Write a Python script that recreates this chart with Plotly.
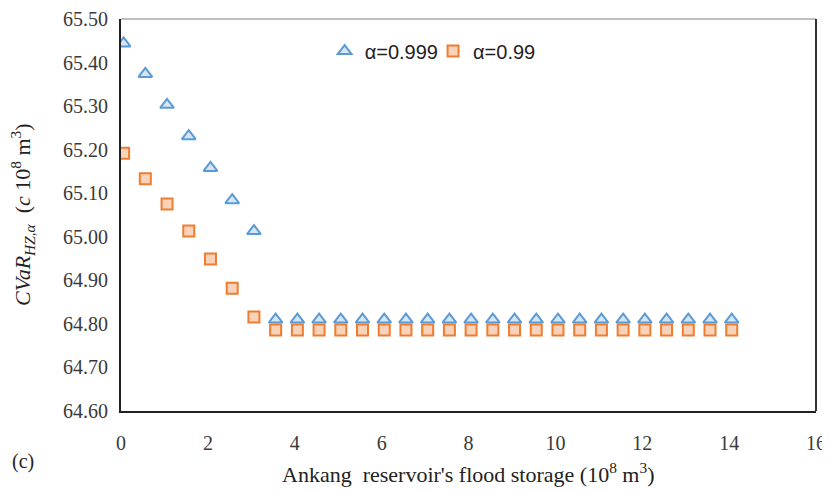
import plotly.graph_objects as go

x_storage = [0.06 + 0.5 * i for i in range(29)]
cvar_999 = [65.444, 65.374, 65.303, 65.231, 65.158, 65.084, 65.013] + [64.81] * 22
cvar_99 = [65.192, 65.133, 65.075, 65.013, 64.949, 64.882, 64.816] + [64.786] * 22

x_ticks = [0, 2, 4, 6, 8, 10, 12, 14, 16]
y_ticks = [64.60, 64.70, 64.80, 64.90, 65.00, 65.10, 65.20, 65.30, 65.40, 65.50]

fig = go.Figure()
fig.add_trace(go.Scatter(
    x=x_storage, y=cvar_999, mode="markers", name="α=0.999", legend="legend",
    marker=dict(symbol="triangle-up", size=12, color="#D6E5F4",
                line=dict(color="#5B9BD5", width=2)),
))
fig.add_trace(go.Scatter(
    x=x_storage, y=cvar_99, mode="markers", name="α=0.99", legend="legend2",
    marker=dict(symbol="square", size=11, color="#F9D2BA",
                line=dict(color="#ED7D31", width=2)),
))

serif = "Liberation Serif, Times New Roman, serif"
tick_font = dict(family=serif, size=20, color="#3a3a3a")
legend_font = dict(family="Liberation Sans, Arial, sans-serif", size=20, color="#222222")

fig.update_layout(
    width=822, height=482,
    margin=dict(l=113, r=14, t=11, b=79),
    paper_bgcolor="white", plot_bgcolor="white",
    showlegend=True,
    legend=dict(orientation="h", x=0.293, y=0.968, xanchor="left", yanchor="top",
                font=legend_font, bgcolor="rgba(0,0,0,0)"),
    legend2=dict(orientation="h", x=0.449, y=0.968, xanchor="left", yanchor="top",
                 font=legend_font, bgcolor="rgba(0,0,0,0)"),
    xaxis=dict(range=[0, 16], tickvals=x_ticks, ticktext=[str(v) for v in x_ticks],
               showgrid=False, zeroline=False, showline=True, linecolor="#222222", linewidth=2,
               ticks="outside", ticklen=13, tickcolor="white", tickfont=tick_font,
               automargin=False),
    yaxis=dict(range=[64.60, 65.50], tickvals=y_ticks, ticktext=[f"{v:.2f}" for v in y_ticks],
               showgrid=False, zeroline=False, showline=True, linecolor="#222222", linewidth=2,
               ticks="outside", ticklen=7, tickcolor="white", tickfont=tick_font,
               automargin=False),
    shapes=[
        dict(type="line", xref="paper", yref="paper", x0=0, x1=1, y0=1, y1=1,
             line=dict(color="#AAAAAA", width=1.5)),
        dict(type="line", xref="paper", yref="paper", x0=1, x1=1, y0=0, y1=1,
             line=dict(color="#333333", width=2)),
    ],
    annotations=[
        dict(text="(c)", xref="paper", yref="paper", x=-0.1415, y=-0.13, xanchor="center", yanchor="middle",
             showarrow=False, font=dict(family=serif, size=20, color="#222222")),
        dict(text="Ankang  reservoir's flood storage (10<sup>8</sup> m<sup>3</sup>)",
             xref="paper", yref="paper", x=0.50, y=-0.158, xanchor="center", yanchor="middle",
             showarrow=False, font=dict(family=serif, size=22, color="#222222")),
        dict(text="<i>CVaR</i><sub><i>HZ,α</i></sub>  (<i>c</i> 10<sup>8</sup> m<sup>3</sup>)",
             xref="paper", yref="paper", x=-0.1424, y=0.50, xanchor="center", yanchor="middle",
             textangle=-90, showarrow=False, font=dict(family=serif, size=22, color="#222222")),
    ],
)

fig.write_html("out.html")
